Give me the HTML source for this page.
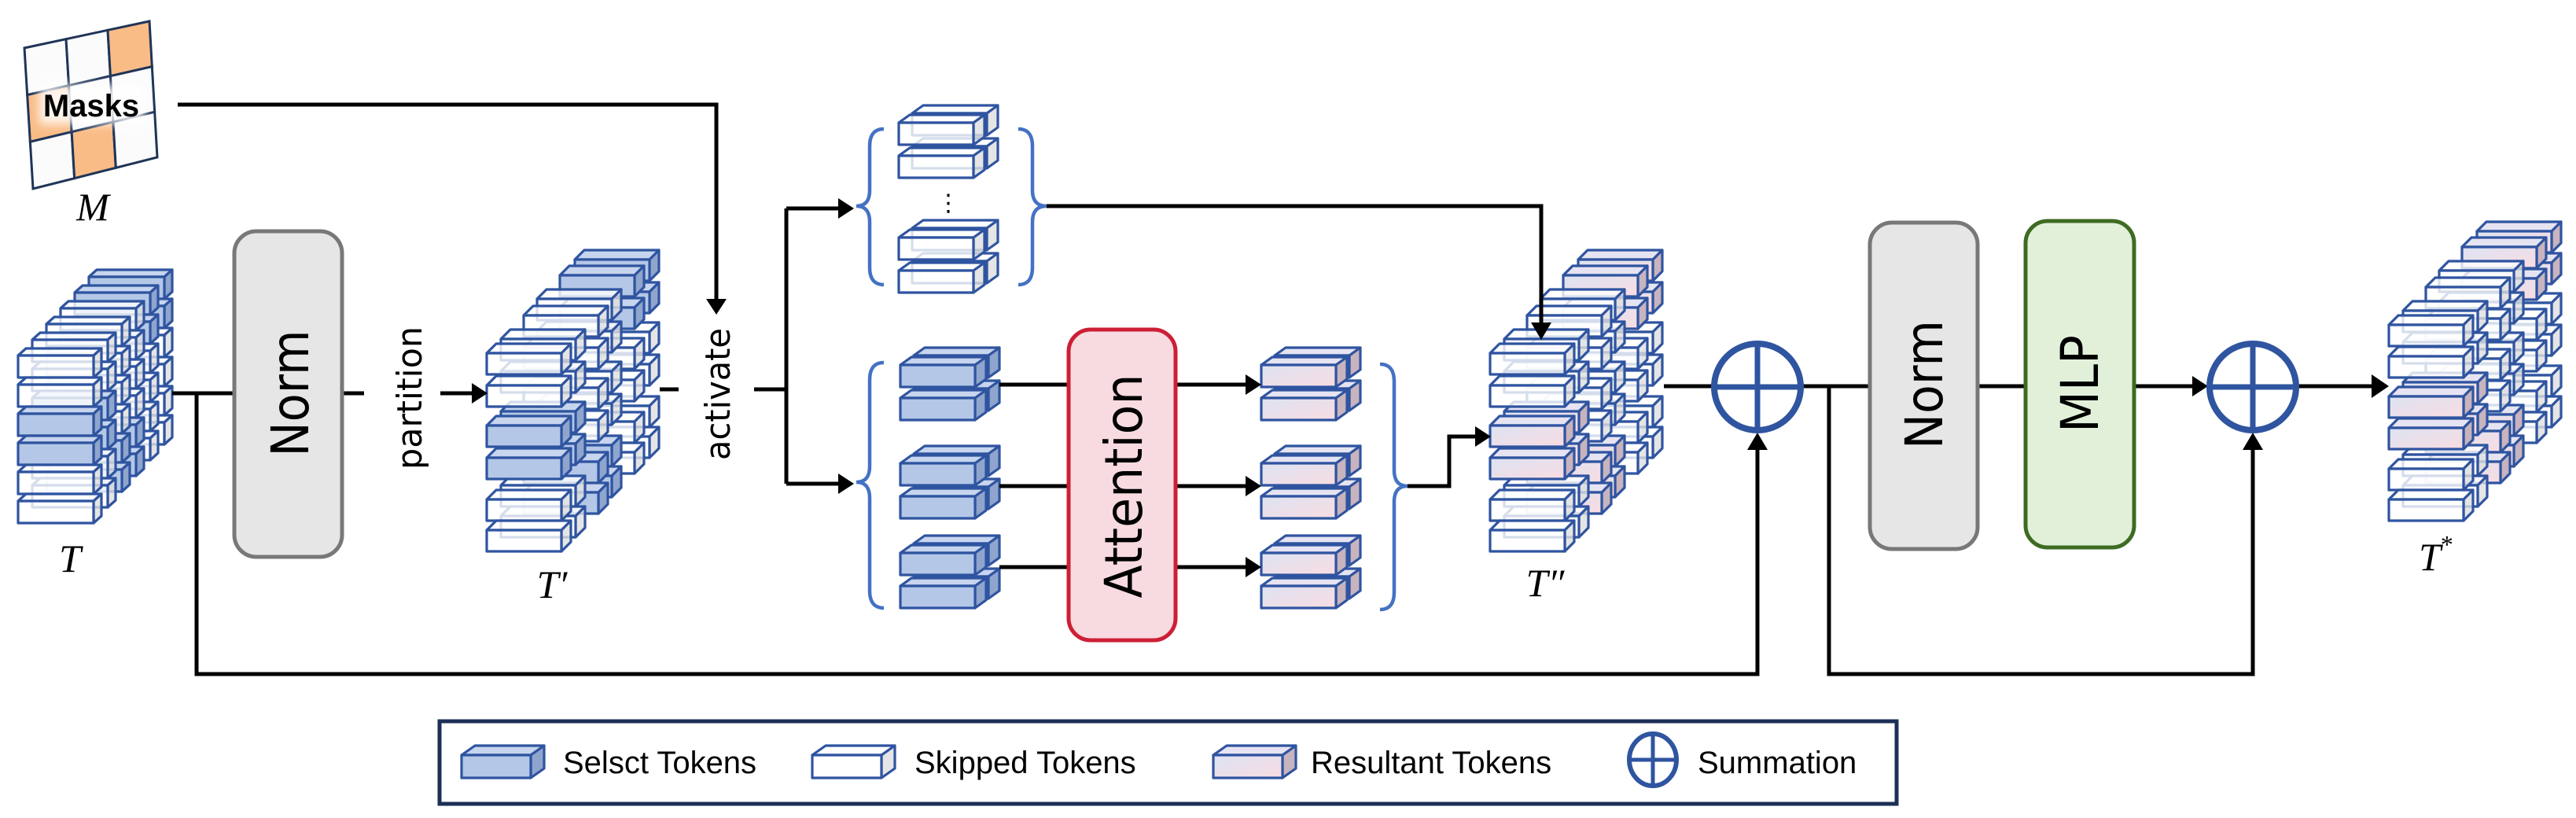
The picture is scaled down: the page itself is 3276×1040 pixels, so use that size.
<!DOCTYPE html>
<html><head><meta charset="utf-8"><style>
html,body{margin:0;padding:0;background:#fff;width:3276px;height:1040px;overflow:hidden}
svg{display:block}
.lbl{font-family:"Liberation Serif",serif;font-style:italic;font-size:50px;fill:#000}
.box{font-family:"DejaVu Sans","Liberation Sans",sans-serif;fill:#000}
.leg{font-family:"Liberation Sans",sans-serif;font-size:40px;fill:#000}
</style></head><body>
<svg id="s" width="3276" height="1040" viewBox="0 0 3276 1040" xmlns="http://www.w3.org/2000/svg">
<defs>
<marker id="ah" markerWidth="10" markerHeight="10" refX="9" refY="5" orient="auto" markerUnits="userSpaceOnUse" viewBox="0 0 10 10">
</marker>
<linearGradient id="rg" x1="0" y1="0" x2="1" y2="1"><stop offset="0" stop-color="#dde3f3"/><stop offset="1" stop-color="#f8dce1"/></linearGradient>
<filter id="glow" x="-20%" y="-40%" width="140%" height="180%"><feGaussianBlur stdDeviation="6"/></filter>
</defs>

<!-- Masks -->
<g id="mask"></g>
<rect x="50" y="108" width="134" height="50" fill="#fff" opacity="0.85" filter="url(#glow)"/>
<text x="116" y="148" text-anchor="middle" font-family="Liberation Sans,sans-serif" font-weight="bold" font-size="40" fill="#000">Masks</text>
<text class="lbl" x="118" y="280" text-anchor="middle">M</text>

<g id="cubes"></g>

<!-- connectors -->
<g stroke="#000" stroke-width="5" fill="none">
<path d="M226,133 H911 V382"/>
<path d="M219,500 H298"/>
<path d="M250,500 V857 H2235 V568"/>
<path d="M435,500 H463"/>
<path d="M560,500 H600"/>
<path d="M839,495 H863"/>
<path d="M959,495 H1000 M1000,265 V615 M1000,265 H1068 M1000,615 H1068"/>
<path d="M1331,262 H1960 V412"/>
<path d="M1271,489 H1359 M1271,618 H1359 M1271,721 H1359"/>
<path d="M1495,489 H1586 M1495,618 H1586 M1495,721 H1586"/>
<path d="M1790,618 H1843 V555 H1878"/>
<path d="M2116,491 H2177"/>
<path d="M2293,491 H2378 M2326,491 V857 H2865 V568"/>
<path d="M2515,491 H2576"/>
<path d="M2714,491 H2790"/>
<path d="M2922,491 H3020"/>
</g>
<g fill="#000">
<polygon points="898,380 924,380 911,400"/>
<polygon points="600,487 600,513 620,500"/>
<polygon points="1066,252 1066,278 1086,265"/>
<polygon points="1066,602 1066,628 1086,615"/>
<polygon points="1947,410 1973,410 1960,432"/>
<polygon points="1584,476 1584,502 1604,489"/>
<polygon points="1584,605 1584,631 1604,618"/>
<polygon points="1584,708 1584,734 1604,721"/>
<polygon points="1876,542 1876,568 1896,555"/>
<polygon points="2222,572 2248,572 2235,550"/>
<polygon points="2852,572 2878,572 2865,550"/>
<polygon points="2788,478 2788,504 2808,491"/>
<polygon points="3016,476 3016,506 3038,491"/>
</g>

<!-- braces -->
<g stroke="#4472c4" stroke-width="4.5" fill="none">
<path d="M1124,164 Q1106,164 1106,186 L1106,242 Q1106,262 1089,262 Q1106,262 1106,282 L1106,340 Q1106,362 1124,362"/>
<path d="M1295,164 Q1313,164 1313,186 L1313,242 Q1313,262 1331,262 Q1313,262 1313,282 L1313,340 Q1313,362 1295,362"/>
<path d="M1124,461 Q1106,461 1106,483 L1106,593 Q1106,613 1089,613 Q1106,613 1106,633 L1106,751 Q1106,773 1124,773"/>
<path d="M1755,463 Q1773,463 1773,485 L1773,598 Q1773,618 1790,618 Q1773,618 1773,638 L1773,753 Q1773,775 1755,775"/>
</g>
<text x="1206" y="268" text-anchor="middle" font-family="DejaVu Sans,sans-serif" font-size="30">⋮</text>

<!-- boxes -->
<rect x="298" y="294" width="137" height="414" rx="28" fill="#e6e6e6" stroke="#7a7777" stroke-width="5"/>
<text class="box" transform="translate(392,500) rotate(-90)" text-anchor="middle" font-size="66" textLength="161" lengthAdjust="spacingAndGlyphs">Norm</text>
<text class="box" transform="translate(536,506) rotate(-90)" text-anchor="middle" font-size="44" textLength="182" lengthAdjust="spacingAndGlyphs">partition</text>
<text class="box" transform="translate(928,501) rotate(-90)" text-anchor="middle" font-size="44" textLength="168" lengthAdjust="spacingAndGlyphs">activate</text>
<rect x="1359" y="419" width="136" height="395" rx="28" fill="#f8dbe0" stroke="#cc1f36" stroke-width="5"/>
<text class="box" transform="translate(1452,618) rotate(-90)" text-anchor="middle" font-size="66" textLength="285" lengthAdjust="spacingAndGlyphs">Attention</text>
<rect x="2378" y="283" width="137" height="415" rx="28" fill="#e6e6e6" stroke="#7a7777" stroke-width="5"/>
<text class="box" transform="translate(2470,489) rotate(-90)" text-anchor="middle" font-size="66" textLength="164" lengthAdjust="spacingAndGlyphs">Norm</text>
<rect x="2576" y="281" width="138" height="415" rx="28" fill="#e2f0d9" stroke="#3d6b22" stroke-width="5"/>
<text class="box" transform="translate(2668,488) rotate(-90)" text-anchor="middle" font-size="66" textLength="124" lengthAdjust="spacingAndGlyphs">MLP</text>

<!-- summation -->
<g stroke="#2f54a0" stroke-width="8" fill="none">
<circle cx="2235" cy="492" r="55"/><path d="M2180,492 H2290 M2235,437 V547" stroke-width="7"/>
<circle cx="2865" cy="492" r="55"/><path d="M2810,492 H2920 M2865,437 V547" stroke-width="7"/>
</g>

<!-- labels -->
<text class="lbl" x="89" y="727" text-anchor="middle">T</text>
<text class="lbl" x="702" y="760" text-anchor="middle">T′</text>
<text class="lbl" x="1965" y="758" text-anchor="middle">T″</text>
<text class="lbl" x="3098" y="725" text-anchor="middle">T<tspan font-size="32" dy="-22" font-style="normal">*</tspan></text>

<!-- legend -->
<rect x="559" y="917" width="1853" height="105" fill="#fff" stroke="#1c2f56" stroke-width="5"/>
<g id="legc"></g>
<text class="leg" x="716" y="983">Selsct Tokens</text>
<text class="leg" x="1163" y="983">Skipped Tokens</text>
<text class="leg" x="1667" y="983">Resultant Tokens</text>
<g stroke="#2f54a0" stroke-width="6" fill="none"><ellipse cx="2102" cy="966" rx="30" ry="33"/><path d="M2072,966 H2132 M2102,933 V999" stroke-width="5"/></g>
<text class="leg" x="2159" y="983">Summation</text>
</svg>
<script>
(function(){
var NS="http://www.w3.org/2000/svg";
function P(g,tag,a){var e=document.createElementNS(NS,tag);for(var k in a)e.setAttribute(k,a[k]);g.appendChild(e);return e;}
var col={s:["#b4c7e7","#c7d5ee","#8fa5cd"],k:["#ffffff","#ffffff","#dedede"],r:["url(#rg)","#e6e4f2","#c8b4be"]};
function cube(g,x,y,t,w,h,d,dy,op){
  var c=col[t];var o=(t=="k")?0.8:(op||1);
  var st={stroke:"#2f54a0","stroke-width":3.2,"stroke-linejoin":"round"};
  function pp(pts,f){var a={points:pts,fill:f,"fill-opacity":o};for(var k in st)a[k]=st[k];P(g,"polygon",a);}
  pp([x,y+dy,x+d,y,x+w+d,y,x+w,y+dy].join(","),c[1]);
  pp([x+w,y+dy,x+w+d,y,x+w+d,y+h,x+w,y+dy+h].join(","),c[2]);
  pp([x,y+dy,x+w,y+dy,x+w,y+dy+h,x,y+dy+h].join(","),c[0]);
}
var G=document.getElementById("cubes");
// T stack
for(var k=5;k>=0;k--)for(var r=0;r<6;r++){
  var t="k";
  if(k<=1&&(r==2||r==3))t="s";
  if(k>=4&&r<=1)t="s";
  if((k==2||k==3)&&r>=4)t="s";
  cube(G,23+18*k,443-20*k+37*r,t,96,28,10,9);
}
var offs=[[0,0],[18,-18],[47,-48],[64,-69],[93,-99],[112,-119]];
var rows=[0,41,92,133,186,225];
function pstack(x0,y0,on,pitch){
  for(var k=5;k>=0;k--)for(var r=0;r<6;r++){
    var g=Math.floor(r/2),L=Math.floor(k/2),t="k";
    if((L==0&&g==1)||(L==1&&g==2)||(L==2&&g==0))t=on;
    var ry=rows[r]; if(pitch) ry=Math.round(rows[r]*pitch);
    cube(G,x0+offs[k][0],y0+offs[k][1]+ry,t,95,27,12,12);
  }
}
pstack(619,437,"s");
pstack(1895,437,"r");
pstack(3038,401,"r",0.985);
function grp(x,y,t){
  cube(G,x+17,y,t,95,28,14,10);cube(G,x+17,y+42,t,95,28,14,10);
  cube(G,x,y+12,t,95,28,14,10);cube(G,x,y+54,t,95,28,14,10);
}
grp(1143,134,"k");grp(1143,280,"k");
grp(1145,442,"s");grp(1145,567,"s");grp(1145,681,"s");
grp(1604,442,"r");grp(1604,567,"r");grp(1604,681,"r");
var LG=document.getElementById("legc");
cube(LG,587,948,"s",88,29,17,12);
cube(LG,1033,948,"k",88,29,17,12);
cube(LG,1543,948,"r",88,29,17,12);
// mask grid
var M=document.getElementById("mask");
var TL=[31,61],TR=[190,27],BR=[200,200],BL=[42,240];
function pt(u,v){var a=[TL[0]+(TR[0]-TL[0])*u,TL[1]+(TR[1]-TL[1])*u],b=[BL[0]+(BR[0]-BL[0])*u,BL[1]+(BR[1]-BL[1])*u];return [a[0]+(b[0]-a[0])*v,a[1]+(b[1]-a[1])*v];}
var orange={"0,2":1,"1,0":1,"2,1":1};
for(var i=0;i<3;i++)for(var j=0;j<3;j++){
  var p=[pt(j/3,i/3),pt((j+1)/3,i/3),pt((j+1)/3,(i+1)/3),pt(j/3,(i+1)/3)];
  P(M,"polygon",{points:p.map(function(q){return q.join(",")}).join(" "),fill:orange[i+","+j]?"#f9bc87":"#fbfbfc",stroke:"#1f3458","stroke-width":3});
}
})();
</script>
</body></html>
